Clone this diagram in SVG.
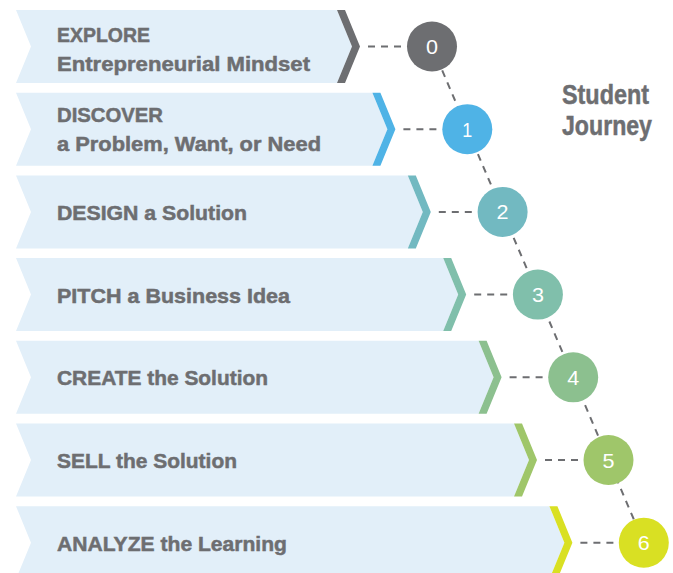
<svg xmlns="http://www.w3.org/2000/svg" width="673" height="573" viewBox="0 0 673 573">
<style>
.bg{fill:#e2eff9}
.lbl{font-family:"Liberation Sans",Arial,sans-serif;font-weight:bold;font-size:21px;fill:#6d6e71;stroke:#6d6e71;stroke-width:0.5}
.ttl{font-family:"Liberation Sans",Arial,sans-serif;font-weight:bold;font-size:27px;fill:#6d6e71;stroke:#6d6e71;stroke-width:0.5}
.num{font-family:"Liberation Sans",Arial,sans-serif;font-size:21px;fill:#ffffff;text-anchor:middle}
.dash{stroke:#6d6e71;stroke-width:2;stroke-dasharray:7 6;fill:none}
</style>
<rect width="673" height="573" fill="#ffffff"/>
<g id="connectors">
<path class="dash" d="M432,46.5 L643.8,542.7"/>
<path class="dash" d="M368,46.5 H407"/>
<path class="dash" d="M403.4,129.2 H442.3"/>
<path class="dash" d="M438.8,211.9 H477.6"/>
<path class="dash" d="M474.2,294.6 H512.9"/>
<path class="dash" d="M509.6,377.3 H548.2"/>
<path class="dash" d="M545,460 H583.5"/>
<path class="dash" d="M580.4,542.7 H618.8"/>
</g>
<g id="step0">
<polygon class="bg" points="16,10 337,10 352,46.5 337,83 16,83 31,46.5"/>
<polygon fill="#6d6e71" points="337,10 345,10 360,46.5 345,83 337,83 352,46.5"/>
<text class="lbl" x="57" y="41.5" textLength="93" lengthAdjust="spacingAndGlyphs">EXPLORE</text>
<text class="lbl" x="57" y="70.5" textLength="253" lengthAdjust="spacingAndGlyphs">Entrepreneurial Mindset</text>
<circle cx="432" cy="46.5" r="25" fill="#6d6e71"/>
<text class="num" x="432" y="54" textLength="12" lengthAdjust="spacingAndGlyphs">0</text>
</g>
<g id="step1">
<polygon class="bg" points="16,92.7 372.4,92.7 387.4,129.2 372.4,165.7 16,165.7 31,129.2"/>
<polygon fill="#4fb3e6" points="372.4,92.7 380.4,92.7 395.4,129.2 380.4,165.7 372.4,165.7 387.4,129.2"/>
<text class="lbl" x="57" y="121.5" textLength="106" lengthAdjust="spacingAndGlyphs">DISCOVER</text>
<text class="lbl" x="57" y="150.5" textLength="264" lengthAdjust="spacingAndGlyphs">a Problem, Want, or Need</text>
<circle cx="467.3" cy="129.2" r="25" fill="#4fb3e6"/>
<text class="num" x="467.3" y="136.7" textLength="10" lengthAdjust="spacingAndGlyphs">1</text>
</g>
<g id="step2">
<polygon class="bg" points="16,175.4 407.8,175.4 422.8,211.9 407.8,248.4 16,248.4 31,211.9"/>
<polygon fill="#72b9c1" points="407.8,175.4 415.8,175.4 430.8,211.9 415.8,248.4 407.8,248.4 422.8,211.9"/>
<text class="lbl" x="57" y="220" textLength="190" lengthAdjust="spacingAndGlyphs">DESIGN a Solution</text>
<circle cx="502.6" cy="211.9" r="25" fill="#72b9c1"/>
<text class="num" x="502.6" y="219.4" textLength="12" lengthAdjust="spacingAndGlyphs">2</text>
</g>
<g id="step3">
<polygon class="bg" points="16,258.1 443.2,258.1 458.2,294.6 443.2,331.1 16,331.1 31,294.6"/>
<polygon fill="#80bfab" points="443.2,258.1 451.2,258.1 466.2,294.6 451.2,331.1 443.2,331.1 458.2,294.6"/>
<text class="lbl" x="57" y="302.7" textLength="233" lengthAdjust="spacingAndGlyphs">PITCH a Business Idea</text>
<circle cx="537.9" cy="294.6" r="25" fill="#80bfab"/>
<text class="num" x="537.9" y="302.1" textLength="12" lengthAdjust="spacingAndGlyphs">3</text>
</g>
<g id="step4">
<polygon class="bg" points="16,340.8 478.6,340.8 493.6,377.3 478.6,413.8 16,413.8 31,377.3"/>
<polygon fill="#8cc08f" points="478.6,340.8 486.6,340.8 501.6,377.3 486.6,413.8 478.6,413.8 493.6,377.3"/>
<text class="lbl" x="57" y="385.4" textLength="211" lengthAdjust="spacingAndGlyphs">CREATE the Solution</text>
<circle cx="573.2" cy="377.3" r="25" fill="#8cc08f"/>
<text class="num" x="573.2" y="384.8" textLength="12" lengthAdjust="spacingAndGlyphs">4</text>
</g>
<g id="step5">
<polygon class="bg" points="16,423.5 514,423.5 529,460 514,496.5 16,496.5 31,460"/>
<polygon fill="#9fc66a" points="514,423.5 522,423.5 537,460 522,496.5 514,496.5 529,460"/>
<text class="lbl" x="57" y="468.1" textLength="180" lengthAdjust="spacingAndGlyphs">SELL the Solution</text>
<circle cx="608.5" cy="460" r="25" fill="#9fc66a"/>
<text class="num" x="608.5" y="467.5" textLength="12" lengthAdjust="spacingAndGlyphs">5</text>
</g>
<g id="step6">
<polygon class="bg" points="16,506.2 549.4,506.2 564.4,542.7 549.4,579.2 16,579.2 31,542.7"/>
<polygon fill="#d9e023" points="549.4,506.2 557.4,506.2 572.4,542.7 557.4,579.2 549.4,579.2 564.4,542.7"/>
<text class="lbl" x="57" y="550.8" textLength="230" lengthAdjust="spacingAndGlyphs">ANALYZE the Learning</text>
<circle cx="643.8" cy="542.7" r="25" fill="#d9e023"/>
<text class="num" x="643.8" y="550.2" textLength="12" lengthAdjust="spacingAndGlyphs">6</text>
</g>
<g id="title">
<text class="ttl" x="562" y="104" textLength="87" lengthAdjust="spacingAndGlyphs">Student</text>
<text class="ttl" x="562" y="135" textLength="90" lengthAdjust="spacingAndGlyphs">Journey</text>
</g>
</svg>
